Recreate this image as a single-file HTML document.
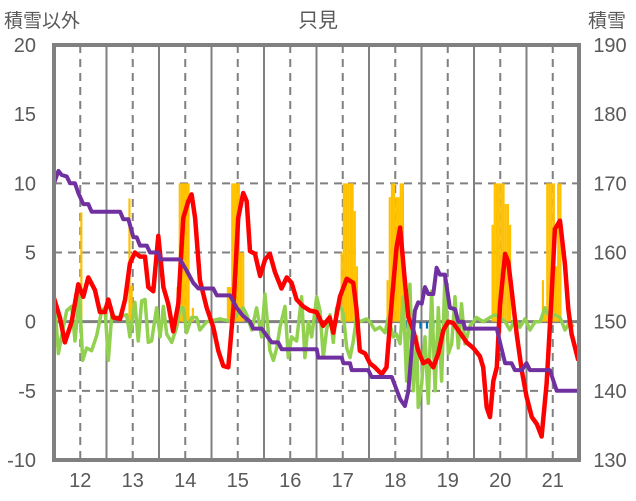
<!DOCTYPE html>
<html><head><meta charset="utf-8">
<style>
html,body{margin:0;padding:0;background:#fff;}
svg{display:block;font-family:"Liberation Sans","Noto Sans CJK JP",sans-serif;}
</style></head>
<body>
<svg id="chart" width="636" height="501" viewBox="0 0 636 501" xmlns="http://www.w3.org/2000/svg">
<text x="318" y="27" font-size="20" fill="#595959" text-anchor="middle">只見</text>
<text x="4" y="27" font-size="19" fill="#595959">積雪以外</text>
<text x="588" y="27" font-size="19" fill="#595959">積雪</text>
<g id="grid"></g><g id="bars"></g><g id="lines"></g><g id="frame"></g><g id="labels"></g>
</svg>
<script>
const dayLabels=["12","13","14","15","16","17","18","19","20","21"];
const leftTicks=[20,15,10,5,0,-5,-10];
const rightTicks=[190,180,170,160,150,140,130];
const precipHours=[10,12,34,35,56,57,58,59,60,61,63,79,80,81,82,83,84,85,86,131,132,133,134,135,136,137,138,152,153,154,155,156,157,158,159,200,201,202,203,204,205,206,207,208,223,224,225,226,227,228,229,230,231];
const precipVals=[0.5,7.9,8.9,2.6,2.5,10,10,10,10,10,1,2.5,2.5,10,10,10,10,5,5,5,10,10,10,10,10,8,4,3,9,10,10,9,9,10,10,7,10,10,10,10,10,8.5,8.5,7,3,1,10,10,10,10,4,10,10];
const blueHours=[20,161,163,164,167,170,173];
const blueVals=[-0.4,-0.5,-2.5,-1.5,-0.5,-0.5,-0.5];
const redHours=[0,2.7,5,8.1,11.1,13.4,15.7,18.7,21,23.3,24.8,27.1,30.2,32.5,34.7,37,39.3,41.6,43.1,45.4,47.7,50,52.2,54.5,56.8,59.1,61.4,62.9,64.5,66.7,69.8,72.8,75.1,77.4,79.7,82,84.2,86.5,88.1,89.6,91.9,94.2,96.5,98.7,101,104,106.4,108.6,110.9,113.9,117,120,123,126,127.7,130.7,133.8,136.8,138.3,139.8,142.2,144.4,146.7,149.8,152,154.4,156.6,158.2,160.4,162,164.2,166.5,168.8,171.1,173.4,175.7,178,180.2,182.5,185.6,188.6,191.7,194.7,196.2,197.8,199.3,200.8,202.4,203.9,206.2,207.7,209.2,211.5,213.8,216,218.4,220.7,222.9,225.2,227.5,229,231.3,233.6,235.1,236.6,239.7];
const redVals=[1.7,0.3,-1.5,0,2.7,1.8,3.2,2.3,0.7,0.7,1.6,0.3,0.2,1.6,4.2,5,4.7,4.7,2.5,2.2,6.2,2.5,1.3,-0.7,1.3,7.5,8.7,9.2,7.5,3,1,-0.4,-2.1,-3.2,-3.3,1,7.5,9.3,8.7,5.1,4.9,3.3,4.5,4.9,3.6,2.4,3.2,2.8,1.6,1.1,0.8,0.7,-0.3,0.3,-0.8,1.8,3.1,2.8,0.9,-2.1,-2.3,-3,-3.3,-3.8,-3.3,1.5,5.4,6.8,2.9,0.3,-0.6,-2.1,-3,-2.8,-3.3,-2.3,-0.6,0,-0.1,-0.8,-1.5,-1.9,-2.5,-3.3,-6.2,-6.9,-4.3,-3.3,1.2,4.9,4.3,2.3,-0.9,-3.5,-5.4,-6.9,-7.4,-8.3,-4.5,2,6.7,7.3,4.1,0.9,-0.9,-2.8];
const greenHours=[0,2,3.5,5.8,8.1,9.6,11.6,13.1,14.9,17.2,19.5,21.8,23.3,24.8,26.4,28.6,30.9,33.2,34.7,37,38.5,40.1,41.6,43.1,44.6,46.9,48.5,50,51.5,53.8,56.1,57.6,59.1,60.6,62.9,65.2,66.7,69.8,72.8,75.9,78.9,81.2,83.5,86.5,88.1,90.4,92.6,94.9,96.4,98.7,100.3,101.8,103.3,105.6,107.1,108.6,110.9,113.2,114.7,116.3,117.8,120.1,121.6,123.1,124.6,126.2,127.7,129.2,130.7,132.3,133.8,135.3,136.8,138.3,139.9,142.9,144.4,146.7,149,151.3,152.8,155.1,156.6,158.2,159.7,161.2,162.7,164.3,165.8,166.5,168.1,169.6,171.1,172.6,174.2,175.7,177.2,178.7,180.3,181.8,183.3,184.8,186.3,187.9,190.2,193.2,196.3,199.3,201.6,203.9,206.2,208.4,210.7,213,215.3,217.6,219.9,222.2,224.4,226.7,229,231.3,233.6,235.9,237.4];
const greenVals=[2,-2.3,-1,0.8,1.1,-1.4,2,-2.8,-1.9,-2.1,-1,0.8,1,-2.8,0.5,0.3,0.4,0.5,-1.1,1.4,-1.4,1.5,1.6,-1.5,-1.4,1,-1.1,1.1,-0.9,-1.5,-0.4,1,1,-0.8,0.3,0.3,-0.6,0,0.1,0.2,0.1,0,0.5,1,0.5,-0.6,1,-1.1,2,-2.1,-2.8,-1.9,-0.4,1.1,-2.6,-1.1,-1.4,1.8,-2.6,0,-1.1,1.8,0.8,-2.6,-0.6,0.5,-1.5,1,1.3,0.5,-1.9,-2.6,-1.4,0.3,0,0.2,0,-0.6,-0.4,-0.8,0.3,-1.1,-0.9,-1.6,1.8,-4.3,2.7,-5,-1.1,-6.2,-4.5,-1.1,-5.9,2.2,-5,1,-4.3,3.2,-2.3,-1.6,1.8,-1.9,1.3,-1.6,-0.3,0.3,0,0.3,0.5,0.3,0,-0.6,0.2,-0.4,0.2,-0.6,0,0,1,0.3,0.5,0.3,-0.6,0,-0.4];
const snowHours=[0,2,3.5,5.8,7.3,9.6,11.1,13.4,15.7,17.2,30.2,31.7,34,36.3,37.8,39.3,42.4,43.9,47.7,48.5,57.6,60.6,63.7,66,72.8,74.4,80.5,83.5,86.5,89.6,91.1,94.9,97.2,99.5,102.5,104.1,120.1,120.8,131.5,132.3,135.3,136.1,143.7,145.2,154.4,158.2,160.4,162,163.5,165,166.5,168.1,169.6,171.1,173.4,174.9,176.4,178.7,181,183.3,184.8,187.1,187.9,202.4,203.9,206.2,209.2,210.7,213.8,216,217.6,226.7,229.8,239.7];
const snowVals=[170,171.8,171.2,171,170,170,168.6,167,167,165.9,165.9,164.8,164.8,162.2,162.2,161,161,160,160,159,159,157.4,155.6,154.8,154.8,153.8,153.8,152,150.8,150,149,149,148,147,147,146,146,144.8,144.8,144,144,143,143,142,142,138.8,137.8,140,146,151.6,152.8,152.6,155,154,154,157.8,156.8,156.8,152,151.8,150,150,149,149,147,144,144,143,143,144,143,143,140,140];

const X0=54,X1=579,Y0=45,Y1=460,HOURS=240;
const xs=h=>X0+(h/HOURS)*(X1-X0);
const yL=v=>Y1-(v+10)/30*(Y1-Y0);
const yR=v=>Y1-(v-130)/60*(Y1-Y0);
const NS="http://www.w3.org/2000/svg";
function mk(tag,attrs,parent){const e=document.createElementNS(NS,tag);for(const k in attrs)e.setAttribute(k,attrs[k]);parent.appendChild(e);return e;}
const grid=document.getElementById('grid'),bars=document.getElementById('bars'),lines=document.getElementById('lines'),frame=document.getElementById('frame'),labels=document.getElementById('labels');

leftTicks.forEach((t,i)=>{
  if(t===20||t===-10||t===15)return;
  const l=mk('line',{x1:X0,x2:X1,y1:yL(t),y2:yL(t),stroke:'#808080','stroke-width':t===0?3:2,'stroke-dasharray':t===0?'none':'8,6'},grid);
  
  
});
for(let d=0;d<10;d++){
  if(d>0){const s=mk('line',{x1:xs(d*24),x2:xs(d*24),y1:Y0,y2:Y1,stroke:'#808080','stroke-width':2},grid);
  
  }
  const m=mk('line',{x1:xs(d*24+12),x2:xs(d*24+12),y1:Y0,y2:Y1,stroke:'#808080','stroke-width':2,'stroke-dasharray':'8,6'},grid);
  
  
}
const bw=(X1-X0)/HOURS;
precipHours.forEach((h,i)=>{
  const v=Math.min(precipVals[i],10);
  const r=mk('rect',{x:xs(h),y:yL(v),width:bw,height:yL(0)-yL(v),fill:'#FFC000'},bars);
  
  
});
blueHours.forEach((h,i)=>{
  const r=mk('rect',{x:xs(h),y:yL(0),width:bw,height:yL(blueVals[i])-yL(0),fill:'#0070C0'},bars);
  
  
});
function path(hs,vs,yf,color,w,name){
  const d=hs.map((h,i)=>(i?'L':'M')+xs(h).toFixed(1)+','+yf(vs[i]).toFixed(1)).join('');
  const p=mk('path',{d:d,fill:'none',stroke:color,'stroke-width':w,'stroke-linejoin':'round'},lines);
  
  
}
path(greenHours,greenVals,yL,'#92D050',3.5,'green-series-line');
path(redHours,redVals,yL,'#FF0000',4.5,'temperature-line');
path(snowHours,snowVals,yR,'#7030A0',4,'snow-depth-line');

const fr=mk('rect',{x:X0,y:Y0,width:X1-X0,height:Y1-Y0,fill:'none',stroke:'#808080','stroke-width':4},frame);



leftTicks.forEach(t=>{
  const tx=mk('text',{x:36,y:yL(t)+7,'font-size':20,fill:'#595959','text-anchor':'end'},labels);
  tx.textContent=t;
  
  
});
rightTicks.forEach(t=>{
  const tx=mk('text',{x:610,y:yR(t)+7,'font-size':20,fill:'#595959','text-anchor':'middle'},labels);
  tx.textContent=t;
  
  
});
dayLabels.forEach((d,i)=>{
  const tx=mk('text',{x:xs(i*24+12),y:487,'font-size':20,fill:'#595959','text-anchor':'middle'},labels);
  tx.textContent=d;
  
  
});
</script>
</body></html>
